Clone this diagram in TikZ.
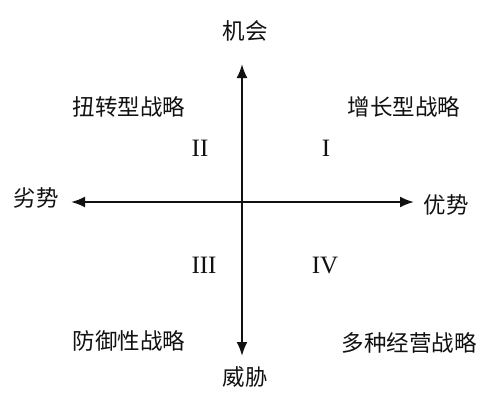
\documentclass[tikz,border=0pt]{standalone}
\usepackage{fontspec}
\setmainfont{Liberation Serif}
\newfontfamily\cjk{Noto Sans CJK SC}
\usetikzlibrary{arrows.meta}
\definecolor{ink}{HTML}{111111}

\begin{document}
\begin{tikzpicture}[x=1pt,y=-1pt,>={Latex[length=14pt,width=11pt]},
  lbl/.style={font=\cjk\fontsize{22.5}{26}\selectfont,text=ink,inner sep=0pt},
  num/.style={font=\fontsize{25}{28}\selectfont,text=ink,inner sep=0pt}]
  \useasboundingbox (0,0) rectangle (478,392);
  % axes
  \coordinate (north) at (242,64);
  \coordinate (south) at (242,356);
  \coordinate (west) at (71,202);
  \coordinate (east) at (414,202);
  \draw[ink,line width=2.2pt,<->] (west) -- (east);
  \draw[ink,line width=2.2pt,<->] (south) -- (north);
  % axis names
  \node[lbl] (opp) at (245,31) {机会};
  \node[lbl] (thr) at (245,377) {威胁};
  \node[lbl] (weak) at (36,198) {劣势};
  \node[lbl] (strong) at (446,205) {优势};
  % quadrant names
  \node[lbl] (turn) at (129,107) {扭转型战略};
  \node[lbl] (grow) at (404,107) {增长型战略};
  \node[lbl] (defend) at (129,341) {防御性战略};
  \node[lbl] (diverse) at (409,343) {多种经营战略};
  % quadrant numbers
  \node[num] (q2) at (200,148) {II};
  \node[num] (q1) at (326,148) {I};
  \node[num] (q3) at (204,265) {III};
  \node[num] (q4) at (325,265) {IV};
\end{tikzpicture}
\end{document}
